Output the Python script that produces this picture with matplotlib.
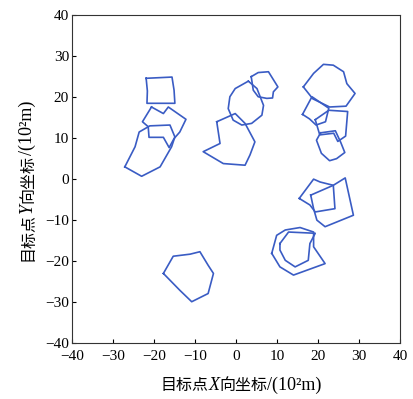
import matplotlib
matplotlib.use("Agg")
import matplotlib.pyplot as plt

plt.rcParams['font.family'] = ['Liberation Serif', 'Noto Sans CJK SC']

# polygon outlines (x, y) in units of 10^2 m
poly_a = [(-21.9, 24.6), (-15.6, 24.9), (-15.1, 21.7), (-14.9, 18.5), (-21.7, 18.5), (-21.6, 21.5)]
poly_b = [(-20.6, 17.6), (-17.7, 16.0), (-16.5, 17.6), (-12.2, 14.6), (-13.7, 11.5),
          (-15.1, 9.9), (-16.3, 7.7), (-17.7, 10.2), (-21.2, 10.2), (-21.4, 12.8), (-22.8, 14.0)]
poly_c = [(-27.1, 3.0), (-23.0, 0.7), (-18.5, 3.0), (-15.7, 7.9), (-14.9, 10.3),
          (-16.1, 13.2), (-21.0, 13.0), (-23.6, 11.5), (-24.6, 7.9)]
poly_d = [(3.7, 25.0), (5.4, 26.0), (7.9, 26.2), (10.2, 22.5), (9.1, 21.3),
          (8.9, 19.8), (7.5, 19.7), (5.4, 20.1), (4.2, 21.7)]
poly_e = [(3.0, 23.9), (-0.2, 22.1), (-1.5, 20.1), (-1.9, 17.2), (-0.7, 14.4),
          (1.4, 13.2), (3.8, 13.6), (6.3, 15.6), (6.7, 18.0), (5.1, 22.1)]
poly_f = [(-4.7, 14.0), (-0.2, 16.0), (2.2, 13.6), (4.6, 9.1), (3.4, 5.9),
          (2.2, 3.4), (-3.1, 3.8), (-8.0, 6.7), (-3.9, 8.7)]
poly_g = [(16.4, 22.5), (18.9, 25.8), (21.3, 28.0), (23.7, 27.8), (26.2, 26.2),
          (27.0, 23.3), (29.0, 20.9), (26.8, 17.8), (22.8, 17.6), (18.7, 19.6)]
poly_h = [(16.2, 15.8), (18.5, 20.1), (22.6, 17.3), (21.8, 14.0), (19.5, 13.2), (17.9, 14.7)]
poly_i = [(19.3, 14.5), (22.6, 16.8), (27.2, 16.5), (26.7, 10.5), (24.8, 9.2),
          (23.8, 11.2), (20.4, 10.8)]
poly_j = [(20.6, 11.3), (24.2, 11.8), (25.5, 9.0), (26.5, 6.5), (24.5, 5.0),
          (22.8, 4.5), (20.8, 6.3), (19.6, 9.5)]
poly_k = [(15.4, -4.7), (18.9, 0.0), (20.5, -0.7), (23.7, -1.5), (24.1, -7.2),
          (19.3, -8.0), (18.0, -6.3)]
poly_l = [(18.2, -3.9), (23.7, -1.5), (26.6, 0.3), (28.6, -8.8), (21.7, -11.6),
          (19.7, -10.0), (18.9, -7.2)]
poly_m = [(8.7, -18.1), (9.9, -13.7), (12.0, -12.4), (15.6, -11.8), (18.9, -12.9),
          (18.9, -16.5), (21.7, -20.6), (14.0, -23.4), (10.7, -21.4)]
poly_n = [(10.7, -15.7), (12.8, -12.9), (19.3, -13.2), (18.0, -15.7), (17.6, -19.8),
          (14.4, -21.4), (12.0, -19.8), (10.7, -17.3)]
poly_o = [(-17.7, -23.0), (-15.3, -18.8), (-11.2, -18.3), (-8.8, -17.7), (-6.8, -21.0),
          (-5.5, -23.0), (-6.8, -27.9), (-10.8, -29.9), (-13.7, -27.1)]

polys = [poly_a, poly_b, poly_c, poly_d, poly_e, poly_f, poly_g, poly_h,
         poly_i, poly_j, poly_k, poly_l, poly_m, poly_n, poly_o]

ticks = [-40, -30, -20, -10, 0, 10, 20, 30, 40]

W, H = 413, 399
fig = plt.figure(figsize=(W / 100, H / 100), dpi=100)
ax = fig.add_axes([0.174, 0.140, 0.795, 0.822])

for p in polys:
    xs = [v[0] for v in p] + [p[0][0]]
    ys = [v[1] for v in p] + [p[0][1]]
    ax.plot(xs, ys, color='#3a5cc4', lw=1.2)

ax.set_xlim(-40, 40)
ax.set_ylim(-40, 40)
ax.set_xticks(ticks)
ax.set_yticks(ticks)
ax.tick_params(direction='in', length=3, labelsize=11, width=0.8, pad=2)
ax.tick_params(axis='x', pad=5)
for s in ax.spines.values():
    s.set_linewidth(0.8)
    s.set_color('#333333')

# axis labels built from pieces: chinese sans, italic serif letter, serif units
cjk = dict(family='Noto Sans CJK SC', size=11.5, weight='medium')
ser = dict(family='Liberation Serif', size=13)
ser_it = dict(family='Liberation Serif', size=13, style='italic')


def label_pieces(letter):
    return [('目标点', cjk), (letter, ser_it), ('向坐标', cjk), ('/(10²m)', ser)]


def draw_label(pieces, pos, vertical):
    fig.canvas.draw()
    r = fig.canvas.get_renderer()
    rot = 90 if vertical else 0
    ts, sizes = [], []
    for s, kw in pieces:
        t = fig.text(0, 0, s, rotation=rot, rotation_mode='anchor',
                     ha='left', va='baseline', fontsize=kw['size'],
                     **{k: v for k, v in kw.items() if k != 'size'})
        bb = t.get_window_extent(r)
        sizes.append(bb.height if vertical else bb.width)
        ts.append(t)
    total = sum(sizes)
    if vertical:
        cur = pos[1] - total / 2
        for t, sz in zip(ts, sizes):
            t.set_position((pos[0] / W, cur / H))
            cur += sz
    else:
        cur = pos[0] - total / 2
        for t, sz in zip(ts, sizes):
            t.set_position((cur / W, pos[1] / H))
            cur += sz


draw_label(label_pieces('X'), (241, H - 390), False)
draw_label(label_pieces('Y'), (32, H - 181), True)

fig.savefig('out.png', dpi=100)
